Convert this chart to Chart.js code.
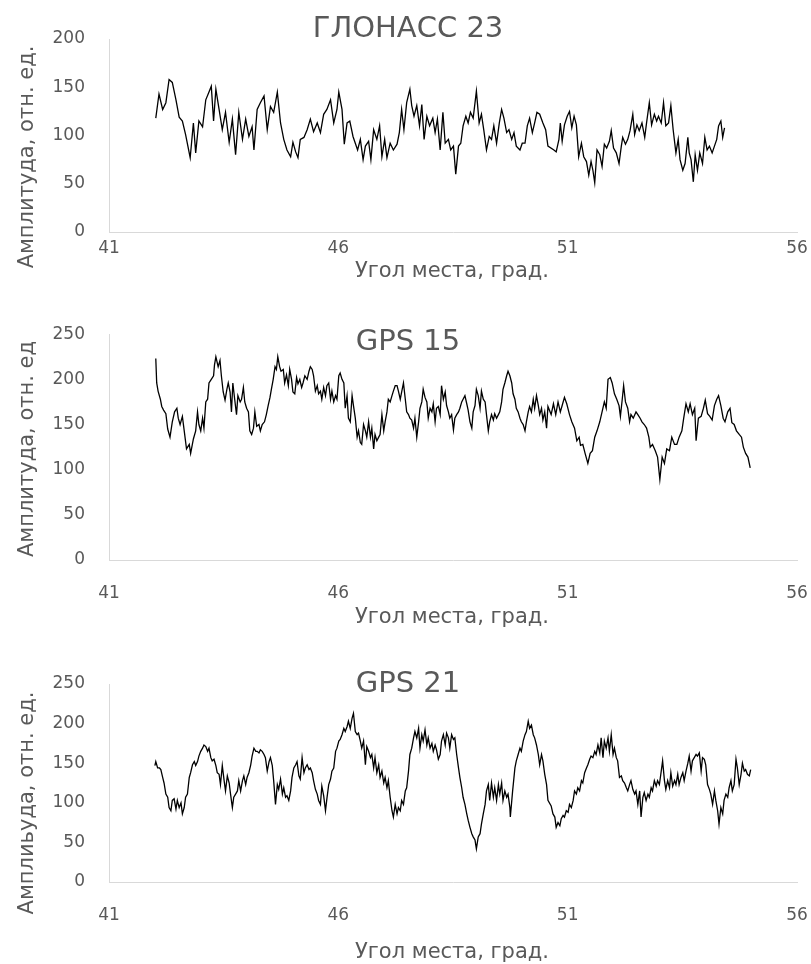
<!DOCTYPE html>
<html lang="ru">
<head>
<meta charset="utf-8">
<title>Амплитуда сигнала</title>
<script src="https://cdn.jsdelivr.net/npm/chart.js@4.4.1/dist/chart.umd.min.js"></script>
<style>
  html, body { margin: 0; padding: 0; background: #fff; }
  #page { position: relative; width: 811px; height: 964px; }
  canvas { position: absolute; left: 0; }
</style>
</head>
<body>
<div id="page">
  <canvas id="glonass23" width="811" height="300" style="top:0"></canvas>
  <canvas id="gps15" width="811" height="340" style="top:300px"></canvas>
  <canvas id="gps21" width="811" height="324" style="top:640px"></canvas>
</div>
<script>
// x axis ticks, degrees
const xTicks = [41, 46, 51, 56];

// ГЛОНАСС 23
const glonassAngle = [
  42.02, 42.09, 42.17, 42.24, 42.31, 42.38, 42.46, 42.53, 42.60, 42.67,
  42.77, 42.84, 42.89, 42.96, 43.04, 43.11, 43.18, 43.23, 43.28, 43.33,
  43.40, 43.47, 43.54, 43.62, 43.69, 43.76, 43.83, 43.91, 43.98, 44.05,
  44.12, 44.16, 44.23, 44.30, 44.38, 44.45, 44.52, 44.59, 44.67, 44.74,
  44.81, 44.88, 44.96, 45.01, 45.07, 45.12, 45.17, 45.25, 45.32, 45.39,
  45.46, 45.54, 45.61, 45.68, 45.75, 45.83, 45.90, 45.97, 46.01, 46.08,
  46.13, 46.19, 46.25,
  46.32, 46.37, 46.42, 46.48, 46.54, 46.59, 46.66, 46.71, 46.77, 46.84,
  46.90, 46.95, 47.01, 47.06, 47.13, 47.20, 47.28, 47.33, 47.38, 47.43,
  47.49, 47.56, 47.60, 47.65, 47.71, 47.77, 47.82, 47.87, 47.93, 47.99,
  48.06, 48.11, 48.16, 48.22, 48.28, 48.33, 48.40, 48.45, 48.51, 48.56,
  48.62, 48.67, 48.72, 48.78, 48.83, 48.88, 48.94, 49.01, 49.07, 49.12,
  49.17, 49.23, 49.29, 49.34, 49.39, 49.45, 49.51, 49.56, 49.61, 49.67,
  49.72, 49.78, 49.83, 49.88, 49.96, 50.01, 50.07, 50.12, 50.17, 50.23,
  50.28, 50.33, 50.39, 50.46, 50.52, 50.57,
  50.70, 50.75, 50.81, 50.84, 50.88, 50.93, 50.99, 51.04, 51.09, 51.14,
  51.19, 51.24, 51.30, 51.35, 51.41, 51.46, 51.51, 51.55, 51.59, 51.64,
  51.70, 51.75, 51.80, 51.85, 51.91, 51.95, 52.00, 52.06, 52.12, 52.17,
  52.20, 52.26, 52.31, 52.36, 52.42, 52.46, 52.51, 52.56, 52.62, 52.68,
  52.72, 52.78, 52.83, 52.89, 52.94, 52.98, 53.04, 53.09, 53.14, 53.20,
  53.25, 53.30, 53.36, 53.41, 53.45, 53.51, 53.56, 53.62, 53.65, 53.69,
  53.74, 53.78, 53.83, 53.88, 53.94, 53.99, 54.04, 54.09, 54.15, 54.20,
  54.25, 54.29, 54.34, 54.38, 54.42
];
const glonassAmp = [
  118, 143, 127, 134, 158, 155, 137, 119, 115, 101,
  77, 113, 82, 115, 109, 137, 145, 151, 115, 148,
  127, 106, 124, 93, 117, 80, 124, 96, 117, 99,
  109, 85, 127, 134, 141, 106, 130, 124, 145, 113,
  96, 85, 78, 93, 83, 77, 96, 98, 106, 117,
  104, 113, 103, 122, 127, 137, 113, 127, 145, 127,
  91, 113, 115,
  99, 92, 85, 96, 75, 89, 94, 75, 106, 96,
  110, 78, 96, 77, 92, 85, 91, 103, 127, 106,
  134, 148, 131, 120, 131, 110, 132, 96, 120, 110,
  118, 103, 117, 85, 124, 92, 96, 85, 89, 60,
  89, 92, 110, 120, 113, 124, 118, 146, 113, 122,
  106, 85, 99, 96, 110, 92, 113, 127, 118, 103,
  106, 96, 103, 89, 85, 92, 92, 110, 118, 103,
  113, 124, 122, 113, 106, 89,
  85, 83, 96, 113, 94, 111, 120, 125, 108, 120,
  111, 78, 92, 78, 73, 59, 73, 64, 51, 85,
  80, 68, 91, 87, 94, 105, 87, 82, 71, 89,
  98, 91, 96, 105, 122, 101, 111, 105, 113, 98,
  113, 134, 111, 122, 115, 120, 113, 134, 110, 113,
  131, 106, 82, 96, 75, 64, 71, 98, 82, 75,
  52, 80, 64, 82, 71, 98, 85, 89, 82, 89,
  96, 110, 115, 98, 108
];

// GPS 15
const gps15Angle = [
  42.02, 42.04, 42.07, 42.12, 42.15, 42.19, 42.24, 42.28, 42.33, 42.38,
  42.43, 42.48, 42.51, 42.55, 42.60, 42.64, 42.69, 42.75, 42.78, 42.84,
  42.89, 42.93, 42.96, 43.00, 43.04, 43.07, 43.11, 43.15, 43.18, 43.23,
  43.28, 43.30, 43.33, 43.38, 43.42, 43.45, 43.49, 43.53, 43.57, 43.60,
  43.64, 43.67, 43.70, 43.74, 43.78, 43.81, 43.86, 43.89, 43.93, 43.96,
  44.00, 44.04, 44.07, 44.11, 44.15, 44.18, 44.22, 44.27, 44.30, 44.34,
  44.39, 44.43, 44.47, 44.51, 44.54, 44.58, 44.62, 44.65, 44.68, 44.72,
  44.75, 44.80, 44.83, 44.87, 44.91, 44.94, 44.98, 45.01, 45.05, 45.09,
  45.12, 45.16, 45.20, 45.23, 45.27, 45.32, 45.36, 45.39, 45.43, 45.46,
  45.50, 45.54, 45.57, 45.61, 45.64, 45.68, 45.72, 45.75, 45.79, 45.83,
  45.86, 45.90, 45.94, 45.97, 46.01, 46.04, 46.08, 46.12, 46.15, 46.19,
  46.22,
  46.26, 46.30, 46.33, 46.37, 46.41, 46.44, 46.48, 46.51, 46.55, 46.59,
  46.62, 46.66, 46.70, 46.73, 46.77, 46.80, 46.84, 46.88, 46.91, 46.95,
  46.99, 47.02, 47.06, 47.09, 47.13, 47.17, 47.20, 47.24, 47.28, 47.31,
  47.35, 47.38, 47.42, 47.46, 47.49, 47.53, 47.56, 47.60, 47.64, 47.67,
  47.71, 47.75, 47.78, 47.82, 47.85, 47.89, 47.93, 47.96, 48.00, 48.04,
  48.07, 48.11, 48.14, 48.18, 48.22, 48.25, 48.29, 48.33, 48.36, 48.40,
  48.43, 48.47, 48.51, 48.54, 48.58, 48.62, 48.65, 48.69, 48.72, 48.76,
  48.80, 48.83, 48.87, 48.91, 48.94, 48.98, 49.01, 49.05, 49.09, 49.12,
  49.16, 49.20, 49.23, 49.27, 49.30, 49.34, 49.38, 49.41, 49.45, 49.49,
  49.52, 49.56, 49.59, 49.63, 49.67, 49.70, 49.74, 49.78, 49.81, 49.85,
  49.88, 49.92, 49.96, 49.99, 50.03, 50.07, 50.10, 50.14, 50.17, 50.21,
  50.25, 50.28, 50.32, 50.36, 50.39, 50.43, 50.46, 50.50, 50.54, 50.57,
  50.64, 50.69, 50.74, 50.79, 50.84, 50.88, 50.93, 50.98, 51.04, 51.09,
  51.15, 51.20, 51.25, 51.28, 51.33, 51.38, 51.44, 51.49, 51.54, 51.59,
  51.64, 51.70, 51.75, 51.80, 51.84, 51.88, 51.93, 51.97, 52.02, 52.07,
  52.12, 52.15, 52.19, 52.22, 52.26, 52.31, 52.35, 52.38, 52.43, 52.49,
  52.53, 52.58, 52.62, 52.67, 52.72, 52.77, 52.80, 52.85, 52.91, 52.96,
  53.01, 53.06, 53.11, 53.16, 53.22, 53.27, 53.33, 53.38, 53.43, 53.49,
  53.53, 53.58, 53.63, 53.67, 53.72, 53.77, 53.80, 53.85, 53.91, 53.96,
  54.00, 54.05, 54.10, 54.15, 54.20, 54.25, 54.29, 54.34, 54.39, 54.43,
  54.49, 54.54, 54.58, 54.63, 54.68, 54.74, 54.79, 54.83, 54.88, 54.93,
  54.98
];
const gps15Amp = [
  223, 196, 187, 178, 170, 166, 162, 145, 136, 153,
  164, 168, 157, 150, 159, 143, 123, 128, 118, 134,
  143, 164, 150, 143, 157, 146, 175, 178, 196, 200,
  204, 216, 225, 214, 221, 204, 186, 177, 189, 196,
  186, 164, 196, 178, 161, 182, 175, 178, 191, 175,
  168, 164, 143, 139, 146, 164, 148, 150, 143, 150,
  153, 161, 171, 180, 189, 200, 214, 211, 225, 214,
  209, 211, 196, 205, 193, 211, 200, 186, 184, 202,
  195, 200, 191, 196, 204, 200, 209, 214, 211, 204,
  187, 193, 184, 187, 178, 191, 182, 193, 196, 178,
  187, 175, 182, 178, 204, 207, 200, 196, 168, 182,
  157,
  153, 182, 171, 157, 136, 143, 130, 128, 150, 143,
  136, 153, 136, 146, 123, 139, 132, 136, 139, 161,
  143, 153, 164, 178, 175, 182, 187, 193, 193, 187,
  178, 186, 196, 178, 164, 161, 157, 155, 146, 157,
  136, 153, 168, 175, 189, 180, 175, 157, 168, 164,
  173, 153, 168, 170, 161, 193, 178, 186, 171, 164,
  157, 161, 144, 157, 161, 164, 168, 175, 178, 182,
  173, 166, 153, 146, 164, 171, 189, 182, 168, 187,
  178, 175, 161, 143, 153, 161, 155, 162, 157, 161,
  164, 175, 189, 196, 204, 209, 204, 196, 184, 178,
  168, 164, 157, 153, 150, 143, 153, 164, 170, 164,
  178, 168, 182, 171, 161, 168, 155, 164, 146, 170,
  161, 173, 161, 175, 164, 171, 180, 173, 161, 153,
  146, 132, 136, 127, 128, 118, 107, 118, 121, 136,
  143, 153, 164, 175, 168, 200, 202, 196, 184, 178,
  171, 159, 178, 193, 175, 168, 153, 161, 157, 164,
  161, 157, 153, 150, 146, 136, 125, 128, 121, 114,
  89, 114, 107, 123, 121, 136, 128, 128, 136, 143,
  157, 173, 164, 173, 161, 168, 132, 157, 159, 168,
  177, 162, 159, 155, 171, 178, 182, 171, 157, 153,
  164, 168, 152, 150, 143, 139, 136, 125, 118, 114,
  102
];

// GPS 21
const gps21Angle = [
  42.00, 42.02, 42.06, 42.10, 42.13, 42.17, 42.20, 42.24, 42.28, 42.31,
  42.35, 42.38, 42.42, 42.46, 42.49, 42.53, 42.57, 42.60, 42.64, 42.67,
  42.71, 42.75, 42.78, 42.82, 42.86, 42.89, 42.93, 42.96, 43.00, 43.04,
  43.07, 43.11, 43.15, 43.18, 43.22, 43.25, 43.29, 43.33, 43.36, 43.40,
  43.43, 43.47, 43.51, 43.54, 43.58, 43.62, 43.65, 43.69, 43.72, 43.76,
  43.80, 43.83, 43.87, 43.91, 43.94, 43.98, 44.01, 44.05, 44.09, 44.12,
  44.16, 44.20, 44.23, 44.27, 44.30, 44.34, 44.38, 44.41, 44.45, 44.49,
  44.52, 44.56, 44.59, 44.63, 44.67, 44.70, 44.74, 44.78, 44.81, 44.85,
  44.88, 44.92, 44.96, 44.99, 45.03, 45.07, 45.10, 45.14, 45.17, 45.21,
  45.25, 45.28, 45.32, 45.36, 45.39, 45.43, 45.46, 45.50, 45.54, 45.57,
  45.61, 45.64, 45.68, 45.72, 45.75, 45.79, 45.83, 45.86, 45.90, 45.94,
  45.97, 46.01, 46.04, 46.08, 46.12, 46.15, 46.19, 46.22,
  46.26, 46.30, 46.33, 46.37, 46.41, 46.44, 46.48, 46.51, 46.55, 46.59,
  46.62, 46.66, 46.70, 46.73, 46.77, 46.80, 46.84, 46.88, 46.91, 46.95,
  46.99, 47.02, 47.06, 47.09, 47.13, 47.17, 47.20, 47.24, 47.28, 47.31,
  47.35, 47.38, 47.42, 47.46, 47.49, 47.53, 47.56, 47.60, 47.64, 47.67,
  47.71, 47.75, 47.78, 47.82, 47.85, 47.89, 47.93, 47.96, 48.00, 48.04,
  48.07, 48.11, 48.14, 48.18, 48.22, 48.25, 48.29, 48.33, 48.36, 48.40,
  48.43, 48.47, 48.51, 48.54, 48.58, 48.62, 48.65, 48.69, 48.72, 48.76,
  48.80, 48.83, 48.87, 48.91, 48.94, 48.98, 49.01, 49.05, 49.09, 49.12,
  49.16, 49.20, 49.23, 49.27, 49.30, 49.34, 49.38, 49.41, 49.45, 49.49,
  49.52, 49.56, 49.59, 49.63, 49.67, 49.70, 49.74, 49.75, 49.80, 49.85,
  49.88, 49.92, 49.96, 49.99, 50.03, 50.07, 50.10, 50.14, 50.17, 50.21,
  50.25, 50.28, 50.32, 50.36, 50.39, 50.43, 50.46, 50.50, 50.54, 50.57,
  50.64, 50.68, 50.72, 50.75, 50.79, 50.83, 50.86, 50.90, 50.93, 50.97,
  51.01, 51.04, 51.08, 51.12, 51.15, 51.19, 51.22, 51.26, 51.30, 51.33,
  51.37, 51.41, 51.44, 51.48, 51.51, 51.55, 51.59, 51.62, 51.66, 51.70,
  51.73, 51.77, 51.80, 51.84, 51.88, 51.91, 51.95, 51.99, 52.02, 52.06,
  52.09, 52.13, 52.17, 52.20, 52.24, 52.28, 52.31, 52.35, 52.38, 52.42,
  52.46, 52.49, 52.53, 52.57, 52.60, 52.64, 52.67, 52.71, 52.75, 52.78,
  52.82, 52.85, 52.89, 52.93, 52.96, 53.00, 53.04, 53.07, 53.11, 53.14,
  53.18, 53.22, 53.25, 53.29, 53.33, 53.36, 53.40, 53.43, 53.47, 53.51,
  53.54, 53.58, 53.62, 53.65, 53.69, 53.72, 53.76, 53.80, 53.83, 53.87,
  53.91, 53.94, 53.98, 54.01, 54.05, 54.09, 54.12, 54.16, 54.20, 54.23,
  54.27, 54.30, 54.34, 54.38, 54.41, 54.45, 54.49, 54.52, 54.56, 54.59,
  54.63, 54.67, 54.70, 54.74, 54.78, 54.81, 54.85, 54.88, 54.92, 54.96,
  54.99
];
const gps21Amp = [
  147, 152, 144, 144, 142, 132, 125, 111, 107, 94,
  90, 103, 105, 92, 103, 94, 100, 86, 94, 107,
  111, 132, 138, 148, 152, 147, 152, 159, 165, 169,
  173, 171, 165, 169, 157, 153, 155, 147, 138, 136,
  123, 147, 128, 115, 134, 125, 111, 94, 107, 111,
  115, 128, 115, 128, 134, 123, 132, 138, 148, 159,
  169, 165, 165, 163, 167, 165, 161, 157, 140, 152,
  157, 147, 128, 98, 123, 117, 130, 111, 119, 107,
  109, 103, 115, 132, 144, 148, 152, 134, 130, 157,
  138, 144, 148, 142, 144, 138, 128, 117, 111, 103,
  98, 121, 109, 90, 105, 123, 130, 140, 144, 165,
  169, 178, 180, 186, 194, 190, 196, 203,
  194, 207, 213, 190, 186, 188, 178, 169, 178, 148,
  171, 165, 157, 161, 144, 157, 138, 148, 132, 140,
  125, 132, 119, 128, 107, 90, 82, 98, 86, 94,
  90, 103, 98, 115, 119, 140, 161, 169, 182, 190,
  182, 194, 169, 186, 178, 192, 173, 182, 169, 175,
  165, 173, 167, 155, 161, 178, 186, 173, 188, 182,
  169, 186, 180, 182, 161, 144, 132, 119, 107, 98,
  86, 78, 69, 61, 57, 53, 42, 57, 61, 73,
  86, 98, 115, 123, 103, 125, 107, 119, 103, 123,
  111, 125, 103, 115, 107, 111, 94, 82, 115, 144,
  153, 161, 169, 165, 178, 186, 190, 203, 194, 198,
  186, 182, 173, 161, 148, 161, 153, 136, 123, 103,
  96, 86, 82, 69, 75, 71, 80, 84, 82, 90,
  88, 98, 94, 103, 115, 111, 119, 115, 128, 125,
  138, 144, 148, 155, 159, 157, 165, 161, 173, 163,
  182, 157, 178, 169, 182, 165, 186, 161, 169, 157,
  153, 132, 134, 128, 125, 119, 115, 123, 128, 117,
  111, 115, 98, 115, 82, 107, 113, 103, 111, 107,
  119, 115, 128, 121, 128, 123, 140, 153, 128, 117,
  128, 119, 138, 121, 128, 123, 136, 123, 132, 138,
  128, 140, 150, 159, 140, 153, 157, 161, 159, 163,
  140, 157, 155, 148, 123, 117, 111, 98, 115, 103,
  90, 73, 94, 86, 103, 111, 107, 119, 128, 115,
  123, 155, 144, 123, 136, 150, 140, 142, 136, 134,
  142
];

const TEXT_COLOR = "#595959";
const AXIS_COLOR = "#d9d9d9";
const FONT = "'DejaVu Sans', sans-serif";

// titles are placed by hand, like in the original sheet
const freeText = {
  id: "freeText",
  afterDraw(chart, args, opts) {
    const ctx = chart.ctx;
    (opts.items || []).forEach((it) => {
      ctx.save();
      ctx.font = it.size + "px " + FONT;
      ctx.fillStyle = TEXT_COLOR;
      ctx.textAlign = "center";
      ctx.textBaseline = "alphabetic";
      ctx.translate(it.x, it.y);
      if (it.rotate) ctx.rotate(-Math.PI / 2);
      ctx.fillText(it.text, 0, 0);
      ctx.restore();
    });
  },
};

function makeChart(id, angles, amps, cfg) {
  const points = angles.map((a, i) => ({ x: a, y: amps[i] }));
  const tickFont = { family: FONT, size: 17 };
  return new Chart(document.getElementById(id), {
    type: "line",
    data: {
      datasets: [
        {
          data: points,
          borderColor: "#000",
          borderWidth: 1.3,
          pointRadius: 0,
          tension: 0,
        },
      ],
    },
    options: {
      responsive: false,
      animation: false,
      devicePixelRatio: 1,
      layout: { padding: { left: 0, right: 14, top: cfg.top, bottom: cfg.bottom } },
      plugins: {
        legend: { display: false },
        tooltip: { enabled: false },
        title: { display: false },
        freeText: { items: cfg.texts },
      },
      scales: {
        x: {
          type: "linear",
          min: 41,
          max: 56,
          afterBuildTicks: (s) => {
            s.ticks = xTicks.map((v) => ({ value: v }));
          },
          afterFit: (s) => {
            // keep the same plot width in all three charts
            s.height = 60;
            s.paddingLeft = 0;
            s.paddingRight = 0;
          },
          grid: { drawOnChartArea: false, drawTicks: false },
          border: { color: AXIS_COLOR, width: 1 },
          ticks: { padding: cfg.xPad, font: tickFont, color: TEXT_COLOR, maxRotation: 0 },
        },
        y: {
          min: 0,
          max: cfg.yMax,
          afterFit: (s) => {
            s.width = 109;
          },
          grid: { drawOnChartArea: false, drawTicks: false },
          border: { color: AXIS_COLOR, width: 1 },
          ticks: { stepSize: 50, padding: 24, font: tickFont, color: TEXT_COLOR },
        },
      },
    },
    plugins: [freeText],
  });
}

makeChart("glonass23", glonassAngle, glonassAmp, {
  yMax: 200, top: 39, bottom: 8, xPad: 6,
  texts: [
    { text: "ГЛОНАСС 23", x: 408, y: 37, size: 29 },
    { text: "Угол места, град.", x: 452, y: 277, size: 21 },
    { text: "Амплитуда, отн. ед.", x: 33, y: 157, size: 21, rotate: true },
  ],
});

makeChart("gps15", gps15Angle, gps15Amp, {
  yMax: 250, top: 34, bottom: 20, xPad: 23,
  texts: [
    { text: "GPS 15", x: 408, y: 50, size: 29 },
    { text: "Угол места, град.", x: 452, y: 323, size: 21 },
    { text: "Амплитуда, отн. ед", x: 33, y: 149, size: 21, rotate: true },
  ],
});

makeChart("gps21", gps21Angle, gps21Amp, {
  yMax: 250, top: 44, bottom: 22, xPad: 23,
  texts: [
    { text: "GPS 21", x: 408, y: 52, size: 29 },
    { text: "Угол места, град.", x: 452, y: 318, size: 21 },
    { text: "Амплиьуда, отн. ед.", x: 33, y: 163, size: 21, rotate: true },
  ],
});
</script>
</body>
</html>
